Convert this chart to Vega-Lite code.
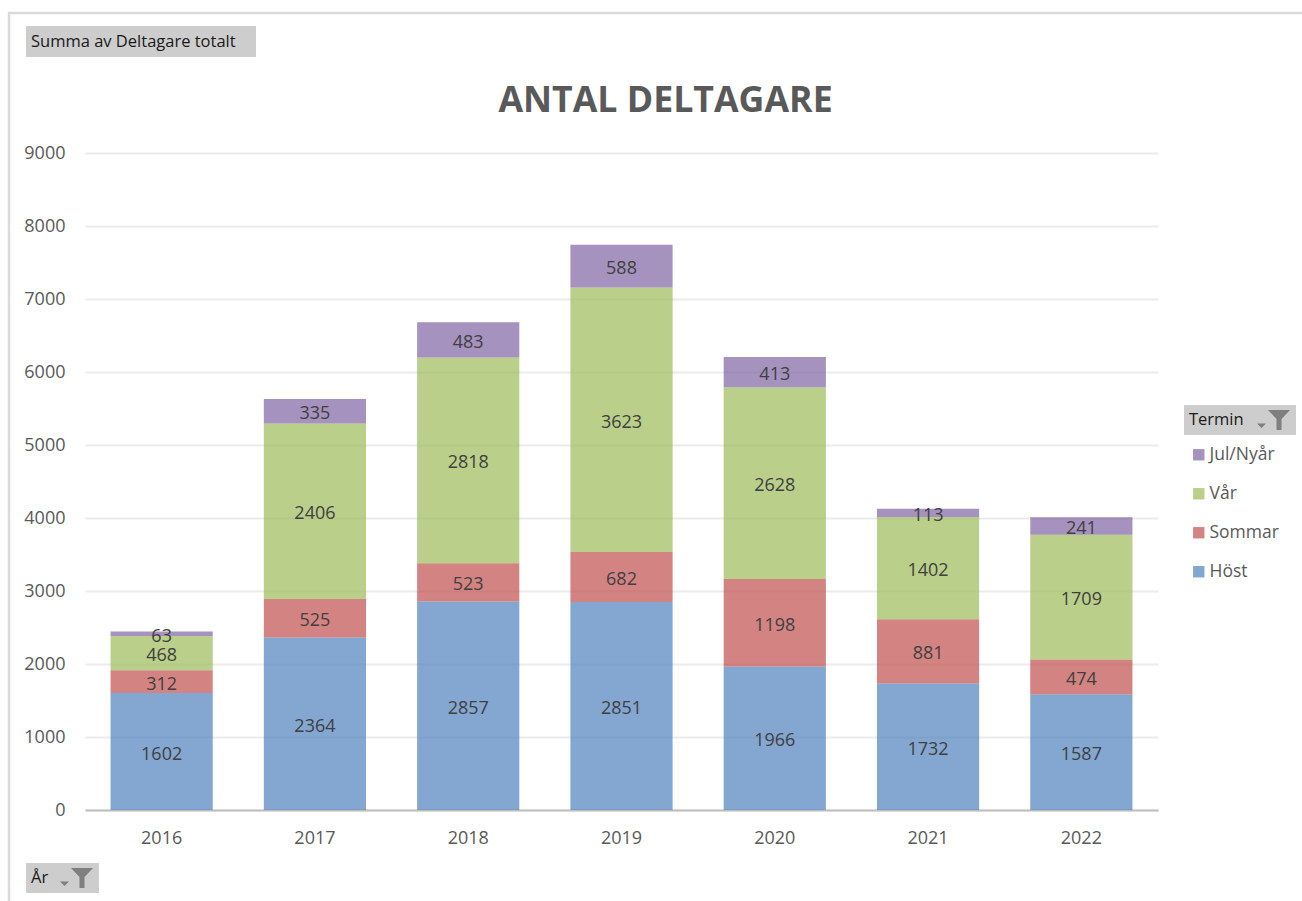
{
"$schema":"https://vega.github.io/schema/vega-lite/v6.json",
"autosize":"none","width":1073,"height":657,
"padding":{"left":85,"top":153,"right":144,"bottom":91},
"background":"white",
"title":{"text":"ANTAL DELTAGARE","font":"Open Sans","fontSize":35.7,"fontWeight":"bold","color":"#595959","anchor":"middle","dx":44,"offset":34,"dy":142},
"config":{"view":{"stroke":null},"font":"Open Sans","legend":{"strokeWidth":2.5}},
"datasets":{"d":[
{"År":"2016","Termin":"Höst","Deltagare":1602},{"År":"2016","Termin":"Sommar","Deltagare":312},{"År":"2016","Termin":"Vår","Deltagare":468},{"År":"2016","Termin":"Jul/Nyår","Deltagare":63},
{"År":"2017","Termin":"Höst","Deltagare":2364},{"År":"2017","Termin":"Sommar","Deltagare":525},{"År":"2017","Termin":"Vår","Deltagare":2406},{"År":"2017","Termin":"Jul/Nyår","Deltagare":335},
{"År":"2018","Termin":"Höst","Deltagare":2857},{"År":"2018","Termin":"Sommar","Deltagare":523},{"År":"2018","Termin":"Vår","Deltagare":2818},{"År":"2018","Termin":"Jul/Nyår","Deltagare":483},
{"År":"2019","Termin":"Höst","Deltagare":2851},{"År":"2019","Termin":"Sommar","Deltagare":682},{"År":"2019","Termin":"Vår","Deltagare":3623},{"År":"2019","Termin":"Jul/Nyår","Deltagare":588},
{"År":"2020","Termin":"Höst","Deltagare":1966},{"År":"2020","Termin":"Sommar","Deltagare":1198},{"År":"2020","Termin":"Vår","Deltagare":2628},{"År":"2020","Termin":"Jul/Nyår","Deltagare":413},
{"År":"2021","Termin":"Höst","Deltagare":1732},{"År":"2021","Termin":"Sommar","Deltagare":881},{"År":"2021","Termin":"Vår","Deltagare":1402},{"År":"2021","Termin":"Jul/Nyår","Deltagare":113},
{"År":"2022","Termin":"Höst","Deltagare":1587},{"År":"2022","Termin":"Sommar","Deltagare":474},{"År":"2022","Termin":"Vår","Deltagare":1709},{"År":"2022","Termin":"Jul/Nyår","Deltagare":241}
]},
"layer":[
{"data":{"name":"d"},
"transform":[{"calculate":"indexof(['Höst','Sommar','Vår','Jul/Nyår'],datum.Termin)","as":"ordning"}],
"mark":{"type":"bar","opacity":0.7},
"encoding":{
"x":{"field":"År","type":"nominal","title":null,"scale":{"paddingInner":0.3333,"paddingOuter":0.1667},
"axis":{"labelAngle":0,"labelFontSize":18,"labelColor":"#595959","labelPadding":19,"ticks":false,"domainColor":"#bfbfbf","domainWidth":2,"grid":false}},
"y":{"aggregate":"sum","field":"Deltagare","type":"quantitative","title":null,"stack":"zero","scale":{"domain":[0,9000],"nice":false},
"axis":{"values":[0,1000,2000,3000,4000,5000,6000,7000,8000,9000],"format":"d","labelFontSize":18,"labelColor":"#595959","labelPadding":20,"ticks":false,"domain":false,"grid":true,"gridColor":"#ececec","gridWidth":2}},
"color":{"field":"Termin","type":"nominal","scale":{"domain":["Höst","Sommar","Vår","Jul/Nyår"],"range":["#4f81bd","#c0504d","#9bbb59","#8064a2"]},
"legend":{"orient":"none","legendX":1105,"legendY":293,"title":null,"values":["Jul/Nyår","Vår","Sommar","Höst"],"symbolType":"square","symbolSize":130,"labelFontSize":17.5,"labelColor":"#595959","rowPadding":20,"labelOffset":2,"padding":0}},
"order":{"field":"ordning","type":"quantitative"}
}},
{"data":{"name":"d"},
"transform":[{"calculate":"indexof(['Höst','Sommar','Vår','Jul/Nyår'],datum.Termin)","as":"ordning"}],
"mark":{"type":"text","font":"Open Sans","fontSize":18,"color":"#404040","dy":3},
"encoding":{
"x":{"field":"År","type":"nominal"},
"y":{"aggregate":"sum","field":"Deltagare","type":"quantitative","stack":"zero","bandPosition":0.5},
"detail":{"field":"Termin"},
"text":{"aggregate":"sum","field":"Deltagare","type":"quantitative"},
"order":{"field":"ordning","type":"quantitative"}
}},
{"data":{"values":[{"k":"Summa"}]},
"mark":{"type":"point","filled":true,"opacity":0},
"encoding":{"shape":{"field":"k","type":"nominal","scale":{"range":["M0,0"]},
"legend":{"orient":"none","legendX":-59,"legendY":-127,"title":"Summa av Deltagare totalt","titleOrient":"left","titleFontSize":16.5,"titleFontWeight":"normal","titleColor":"#1a1a1a","titleFont":"Open Sans","titleLimit":400,"titlePadding":1,"labelExpr":"''","symbolSize":64,"symbolOpacity":0,"clipHeight":21,"padding":5,"fillColor":"#cdcdcd"}}}},
{"data":{"values":[{"k":"Termin"}]},
"mark":{"type":"point","filled":true,"opacity":0,"color":"#7f7f7f"},
"encoding":{"shape":{"field":"k","type":"nominal","scale":{"range":["M-0.9,-1.0 L1.3,-1.0 L0.45,-0.1 L0.45,1.0 L-0.05,1.0 L-0.05,-0.1 Z M-2.0,0.35 L-1.1,0.35 L-1.55,0.8 Z"]},
"legend":{"orient":"none","legendX":1099,"legendY":252,"title":"Termin","titleOrient":"left","titleFontSize":16.5,"titleFontWeight":"normal","titleColor":"#1a1a1a","titlePadding":23,"labelExpr":"''","symbolSize":400,"symbolOpacity":1,"symbolFillColor":"#7f7f7f","symbolStrokeColor":"#7f7f7f","symbolStrokeWidth":0,"padding":5,"fillColor":"#cdcdcd"}}}},
{"data":{"values":[{"k":"År"}]},
"mark":{"type":"point","filled":true,"opacity":0,"color":"#7f7f7f"},
"encoding":{"shape":{"field":"k","type":"nominal","scale":{"range":["M-0.9,-1.0 L1.3,-1.0 L0.45,-0.1 L0.45,1.0 L-0.05,1.0 L-0.05,-0.1 Z M-2.0,0.35 L-1.1,0.35 L-1.55,0.8 Z"]},
"legend":{"orient":"none","legendX":-59,"legendY":710,"title":"År","titleOrient":"left","titleFontSize":16.5,"titleFontWeight":"normal","titleColor":"#1a1a1a","titlePadding":21,"labelExpr":"''","symbolSize":400,"symbolOpacity":1,"symbolFillColor":"#7f7f7f","symbolStrokeColor":"#7f7f7f","symbolStrokeWidth":0,"padding":5,"fillColor":"#cdcdcd"}}}},
{"data":{"values":[{"k":"Ram"}]},
"mark":{"type":"point","filled":true,"opacity":0},
"encoding":{"shape":{"field":"k","type":"nominal","scale":{"range":["M0,0"]},
"legend":{"orient":"none","legendX":-76,"legendY":-140,"title":null,"labelExpr":"''","symbolOpacity":0,"padding":1000,"strokeColor":"#dadada"}}}}
],
"resolve":{"scale":{"shape":"independent"},"legend":{"shape":"independent"}}
}
